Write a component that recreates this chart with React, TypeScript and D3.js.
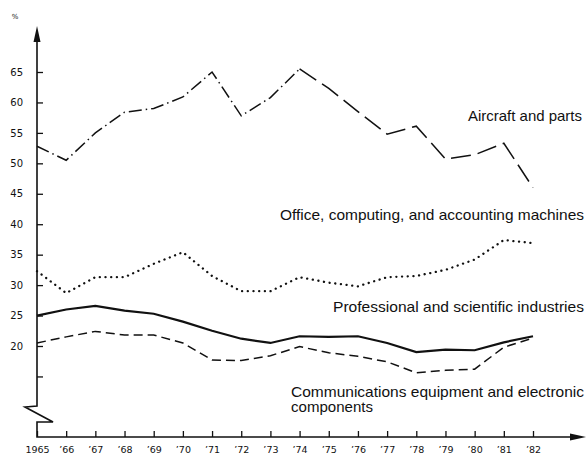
import { useEffect, useRef } from 'react';
import * as d3 from 'd3';

// years on the x axis
const years = [1965, 1966, 1967, 1968, 1969, 1970, 1971, 1972, 1973, 1974, 1975, 1976, 1977, 1978, 1979, 1980, 1981, 1982];

// percent values
const aircraft = [52.8, 50.5, 55.0, 58.4, 59.0, 60.9, 65.0, 57.8, 60.8, 65.5, 62.3, 58.5, 54.8, 56.1, 50.7, 51.4, 53.3, 46.0];
const office = [32.3, 28.7, 31.3, 31.3, 33.5, 35.4, 31.5, 29.0, 29.0, 31.3, 30.4, 29.8, 31.3, 31.5, 32.5, 34.2, 37.4, 36.9];
const professional = [25.0, 26.0, 26.6, 25.8, 25.3, 24.0, 22.5, 21.2, 20.5, 21.6, 21.5, 21.6, 20.5, 19.0, 19.4, 19.3, 20.6, 21.6];
const communications = [20.5, 21.5, 22.4, 21.8, 21.8, 20.5, 17.7, 17.6, 18.4, 19.9, 18.9, 18.3, 17.4, 15.6, 16.0, 16.2, 19.8, 21.3];

const yTicks = [15, 20, 25, 30, 35, 40, 45, 50, 55, 60, 65];

const labels = [
  { lines: ['Aircraft and parts'], widths: [114], x: 468, y: 121 },
  { lines: ['Office, computing, and accounting machines'], widths: [304], x: 280, y: 220 },
  { lines: ['Professional and scientific industries'], widths: [251], x: 333, y: 312 },
  { lines: ['Communications equipment and electronic', 'components'], widths: [293, 82], x: 291, y: 397 },
];

const App = () => {
  const svgRef = useRef<SVGSVGElement | null>(null);

  useEffect(() => {
    if (!svgRef.current) return;
    const svg = d3.select(svgRef.current);
    svg.selectAll('*').remove();

    const x = d3.scaleLinear().domain([1965, 1982]).range([37, 533]);
    const y = d3.scaleLinear().domain([20, 65]).range([346, 72]);
    const x0 = 37;
    const yBase = 437;

    // axes ticks
    const yAxis = svg.append('g')
      .attr('transform', `translate(${x0},0)`)
      .call(d3.axisLeft(y).tickValues(yTicks).tickSizeInner(-6).tickSizeOuter(0).tickPadding(14)
        .tickFormat(d => (+d === 15 ? '' : String(d))));
    yAxis.select('.domain').remove();
    yAxis.selectAll('line').attr('stroke', '#111').attr('stroke-width', 1.3);
    yAxis.selectAll('text').attr('font-family', 'DejaVu Sans').attr('font-size', 10).attr('fill', '#111');

    const xAxis = svg.append('g')
      .attr('transform', `translate(0,${yBase})`)
      .call(d3.axisBottom(x).tickValues(years).tickSizeInner(-6).tickSizeOuter(0).tickPadding(9)
        .tickFormat(d => (+d === 1965 ? '1965' : '\u2019' + String(d).slice(2))));
    xAxis.select('.domain').remove();
    xAxis.selectAll('line').attr('stroke', '#111').attr('stroke-width', 1.3);
    xAxis.selectAll('text').attr('font-family', 'DejaVu Sans').attr('font-size', 9.5).attr('fill', '#111');

    // axis lines with the break
    svg.append('path')
      .attr('d', `M${x0},38 L${x0},406 L25,407 L53,422 L${x0},422 L${x0},${yBase} L578,${yBase}`)
      .attr('fill', 'none').attr('stroke', '#111').attr('stroke-width', 1.6);
    svg.append('path').attr('d', `M${x0},26 L${x0 - 3.5},42 L${x0 + 3.5},42 Z`).attr('fill', '#111');
    svg.append('path').attr('d', `M586,${yBase} L570,${yBase - 3.5} L570,${yBase + 3.5} Z`).attr('fill', '#111');

    svg.append('text').attr('x', 15).attr('y', 19).attr('font-family', 'DejaVu Sans').attr('font-size', 7)
      .attr('text-anchor', 'middle').attr('fill', '#111').text('%');

    const line = d3.line<number>().x((d, i) => x(years[i])).y(d => y(d));
    const lineFrom = (start: number) => d3.line<number>().x((d, i) => x(years[i + start])).y(d => y(d));

    // aircraft: dash-dot until '74, long dashes after
    svg.append('path').attr('d', lineFrom(0)(aircraft.slice(0, 10)))
      .attr('fill', 'none').attr('stroke', '#111').attr('stroke-width', 1.5)
      .attr('stroke-dasharray', '13,4,1.5,4');
    svg.append('path').attr('d', lineFrom(9)(aircraft.slice(9)))
      .attr('fill', 'none').attr('stroke', '#111').attr('stroke-width', 1.5)
      .attr('stroke-dasharray', '20,7');

    svg.append('path').attr('d', line(office))
      .attr('fill', 'none').attr('stroke', '#111').attr('stroke-width', 2.3)
      .attr('stroke-linecap', 'round').attr('stroke-dasharray', '0.1,5.6');

    svg.append('path').attr('d', line(professional))
      .attr('fill', 'none').attr('stroke', '#111').attr('stroke-width', 2.2);

    svg.append('path').attr('d', line(communications))
      .attr('fill', 'none').attr('stroke', '#111').attr('stroke-width', 1.5)
      .attr('stroke-dasharray', '9,5');

    // series labels
    labels.forEach(l => {
      l.lines.forEach((s, i) => {
        svg.append('text').attr('x', l.x).attr('y', l.y + i * 15)
          .attr('font-family', 'Liberation Sans, Arial, sans-serif').attr('font-size', 14.5).attr('fill', '#111')
          .attr('textLength', l.widths[i]).attr('lengthAdjust', 'spacingAndGlyphs')
          .text(s);
      });
    });
  }, []);

  return (
    <svg ref={svgRef} width={587} height={456}
      style={{ position: 'absolute', left: 0, top: 0, background: '#fff' }} />
  );
};

export default App;
